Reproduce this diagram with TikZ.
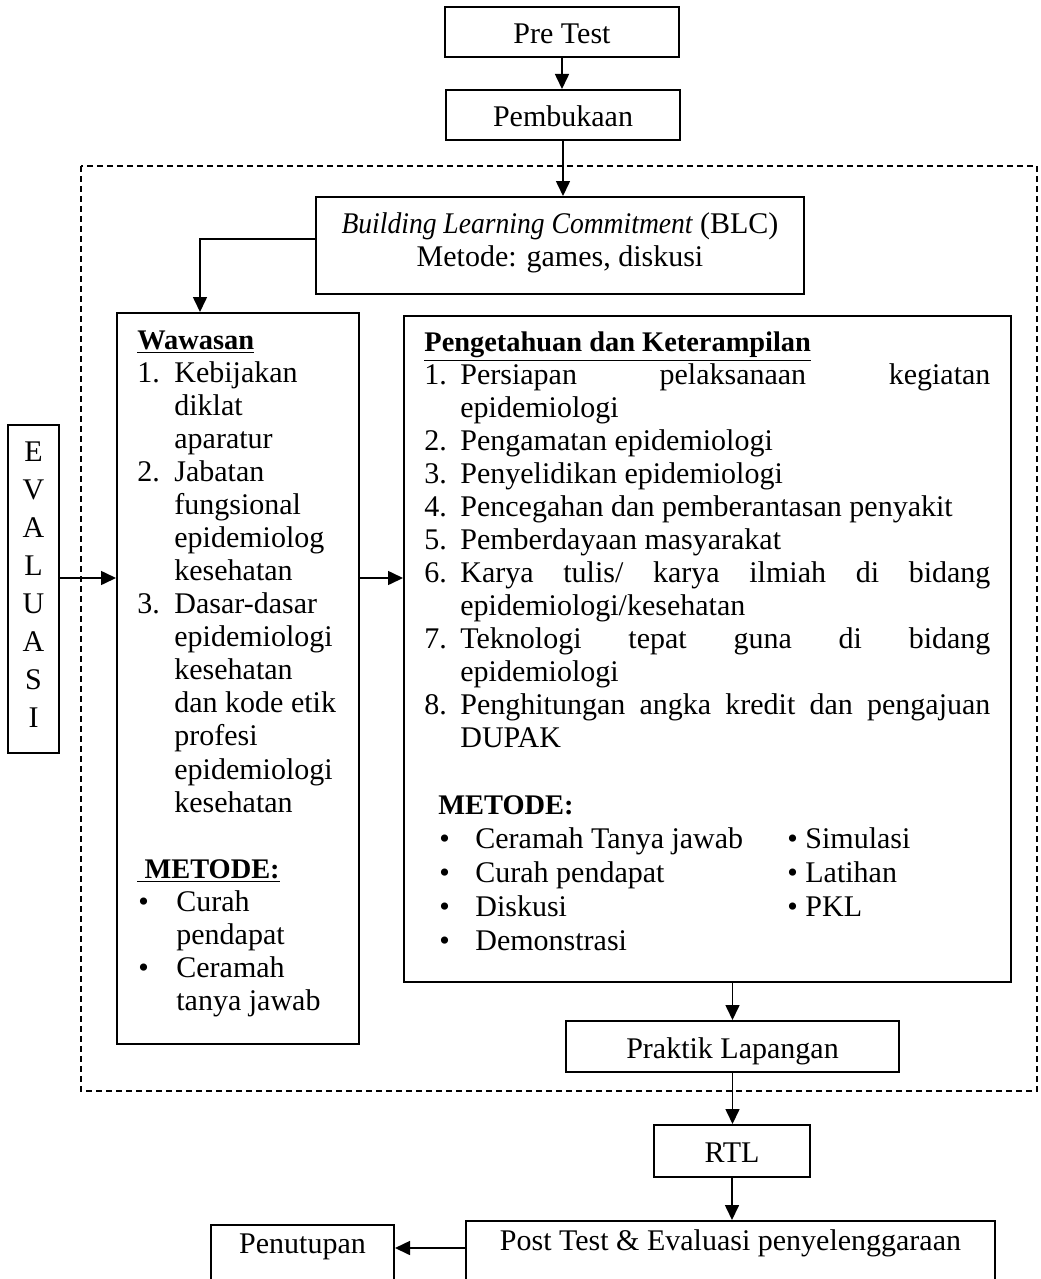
\documentclass[tikz,border=0pt]{standalone}
\usepackage{fontspec}
\usepackage{graphicx}
\setmainfont{Liberation Serif}
\usetikzlibrary{arrows.meta}
\newcommand{\fs}{\fontsize{15pt}{16.54pt}\selectfont}
\newcommand{\hb}[1]{{\fontsize{14.2pt}{16.54pt}\selectfont\bfseries #1}}
\begin{document}
\begin{tikzpicture}[x=0.5pt,y=-0.5pt,
  box/.style={draw, line width=1pt, inner sep=0pt, rectangle},
  sbox/.style={box, font=\fs, text height=12pt, text depth=0.5pt},
  txt/.style={inner sep=0pt, font=\fs},
  arr/.style={-{Triangle[length=7.5pt,width=7pt]}, line width=0.8pt},
  dbox/.style={draw, line width=0.8pt, dash pattern=on 3pt off 2pt}]
\useasboundingbox (0,0) rectangle (1040,1279);

\draw[dbox] (81,166) rectangle (1037,1091);

\node[sbox, minimum width=117pt, minimum height=25pt] (pre) at (562,32) {Pre Test};
\node[sbox, minimum width=117pt, minimum height=25pt] (pem) at (563,115) {Pembukaan};
\node[box, minimum width=244pt, minimum height=48.5pt] (blc) at (560,245.5) {};
\node[txt, anchor=base] (blct) at (560,233) {\parbox[t]{240pt}{\centering\fs \scalebox{0.92}[1]{\itshape Building Learning Commitment} (BLC)\\ Metode: games, diskusi}};

\node[box, minimum width=121pt, minimum height=365.5pt] (waw) at (238,678.5) {};
\node[box, minimum width=303.5pt, minimum height=333pt] (pk) at (707.5,649) {};
\node[box, minimum width=25.5pt, minimum height=164pt] (eva) at (33.5,589) {};
\node[txt, anchor=base] (evat) at (33.5,461) {\parbox[t]{20pt}{\centering\fontsize{15pt}{19.05pt}\selectfont E\\V\\A\\L\\U\\A\\S\\I}};

\node[sbox, minimum width=166.5pt, minimum height=25.5pt] (prak) at (732.5,1046.5) {Praktik Lapangan};
\node[sbox, minimum width=78pt, minimum height=26pt] (rtl) at (732,1151) {RTL};
\node[box, minimum width=264.5pt, minimum height=30.5pt] (post) at (730.5,1251.5) {};
\node[txt, anchor=base] (postt) at (730.5,1250) {Post Test \& Evaluasi penyelenggaraan};
\node[box, minimum width=91.5pt, minimum height=28.5pt] (pen) at (302.5,1253.5) {};
\node[txt, anchor=base] (pent) at (302.5,1253) {Penutupan};

\node[txt, anchor=base west] (wawt) at (137,349) {\parbox[t]{110pt}{\fs
\hb{\underline{Wawasan}}\\
\makebox[18.5pt][l]{1.}Kebijakan\\
\hspace*{18.5pt}diklat\\
\hspace*{18.5pt}aparatur\\
\makebox[18.5pt][l]{2.}Jabatan\\
\hspace*{18.5pt}fungsional\\
\hspace*{18.5pt}epidemiolog\\
\hspace*{18.5pt}kesehatan\\
\makebox[18.5pt][l]{3.}Dasar-dasar\\
\hspace*{18.5pt}epidemiologi\\
\hspace*{18.5pt}kesehatan\\
\hspace*{18.5pt}dan kode etik\\
\hspace*{18.5pt}profesi\\
\hspace*{18.5pt}epidemiologi\\
\hspace*{18.5pt}kesehatan\\
\mbox{}\\
\hb{\underline{\ METODE:}}\\
\hspace*{0.5pt}\makebox[19pt][l]{\textbullet}Curah\\
\hspace*{19.5pt}pendapat\\
\hspace*{0.5pt}\makebox[19pt][l]{\textbullet}Ceramah\\
\hspace*{19.5pt}tanya jawab}};

\node[txt, anchor=base west] (pkt) at (424,351) {\parbox[t]{290pt}{\fs
\hb{\underline{Pengetahuan dan Keterampilan}}\\
\makebox[18pt][l]{1.}\makebox[265pt][s]{Persiapan pelaksanaan kegiatan}\\
\hspace*{18pt}epidemiologi\\
\makebox[18pt][l]{2.}Pengamatan epidemiologi\\
\makebox[18pt][l]{3.}Penyelidikan epidemiologi\\
\makebox[18pt][l]{4.}Pencegahan dan pemberantasan penyakit\\
\makebox[18pt][l]{5.}Pemberdayaan masyarakat\\
\makebox[18pt][l]{6.}\makebox[265pt][s]{Karya tulis/ karya ilmiah di bidang}\\
\hspace*{18pt}epidemiologi/kesehatan\\
\makebox[18pt][l]{7.}\makebox[265pt][s]{Teknologi tepat guna di bidang}\\
\hspace*{18pt}epidemiologi\\
\makebox[18pt][l]{8.}\makebox[265pt][s]{Penghitungan angka kredit dan pengajuan}\\
\hspace*{18pt}DUPAK}};

\node[txt, anchor=base west] (pkm) at (438,814) {\parbox[t]{170pt}{\fontsize{15pt}{17pt}\selectfont
\hb{METODE:}\\
\hspace*{0.5pt}\makebox[18pt][l]{\textbullet}Ceramah Tanya jawab\\
\hspace*{0.5pt}\makebox[18pt][l]{\textbullet}Curah pendapat\\
\hspace*{0.5pt}\makebox[18pt][l]{\textbullet}Diskusi\\
\hspace*{0.5pt}\makebox[18pt][l]{\textbullet}Demonstrasi}};
\node[txt, anchor=base west] (pkm2) at (787,848) {\parbox[t]{100pt}{\fontsize{15pt}{17pt}\selectfont
\textbullet\ Simulasi\\
\textbullet\ Latihan\\
\textbullet\ PKL}};

\coordinate (ly) at (0,578);
\coordinate (lb) at (0,1248);
\draw[arr] (pre.south) -- (pre.south |- pem.north);
\draw[arr] (pem.south) -- (pem.south |- blc.north);
\draw[arr] ([yshift=3.25pt]blc.west) -| ([xshift=-19pt]waw.north);
\draw[arr] (eva.east |- ly) -- (waw.west |- ly);
\draw[arr] (waw.east |- ly) -- (pk.west |- ly);
\draw[arr] (prak.north |- pk.south) -- (prak.north);
\draw[arr] (prak.south) -- (prak.south |- rtl.north);
\draw[arr] (rtl.south) -- (rtl.south |- post.north);
\draw[arr] (post.west |- lb) -- (pen.east |- lb);
\end{tikzpicture}
\end{document}
